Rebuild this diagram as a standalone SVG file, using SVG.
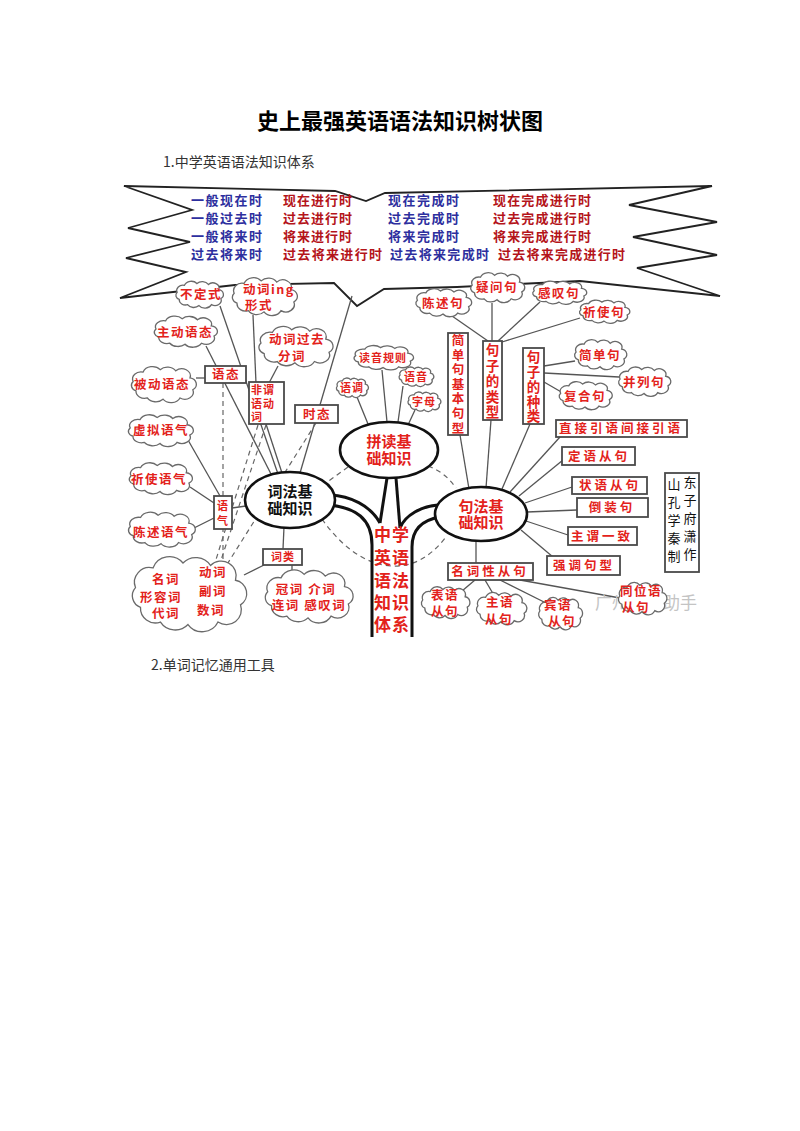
<svg xmlns="http://www.w3.org/2000/svg" xmlns:xlink="http://www.w3.org/1999/xlink" width="800" height="1131" viewBox="0 0 800 1131">
<defs>
<path id="cl" class="cloudp" d="M -42,-6 a 12,12 0 0 1 14,-16 a 14,14 0 0 1 24,-4 a 14,14 0 0 1 22,2 a 12,12 0 0 1 20,12 a 11,11 0 0 1 4,20 a 12,12 0 0 1 -18,14 a 14,14 0 0 1 -24,2 a 14,14 0 0 1 -22,-2 a 12,12 0 0 1 -16,-12 a 10,10 0 0 1 -4,-16 Z"/>
<style>
.cloudp{fill:#fff;stroke:#6a6a6a;stroke-width:1.3;vector-effect:non-scaling-stroke}
text{font-family:"Noto Sans CJK SC","Noto Sans",sans-serif}
.r{fill:#e3221b;font-weight:bold;font-size:12.5px;text-anchor:middle;letter-spacing:1.5px}
.rs{fill:#e3221b;font-weight:bold;font-size:11px;text-anchor:middle;letter-spacing:1px}
.v13{fill:#e3221b;font-weight:bold;font-size:12.5px;text-anchor:middle}
.v14{fill:#e3221b;font-weight:bold;font-size:13.5px;text-anchor:middle}
.au{fill:#111;font-size:13px;text-anchor:middle}
.bx{fill:#fff;stroke:#4a4a4a;stroke-width:1.8}
.ln{stroke:#555;stroke-width:1.3;fill:none}
.ds{stroke:#666;stroke-width:1.2;fill:none;stroke-dasharray:5 4}
.tk{stroke:#111;stroke-width:3;fill:none}
.el{fill:#fff;stroke:#111;stroke-width:2.6}
.sbB{fill:#2d2f9e;font-weight:bold;font-size:13px}
.sbR{fill:#b4141a;font-weight:bold;font-size:13px}
.et{font-weight:bold;font-size:15px;text-anchor:middle}
.tr{font-size:17px;font-weight:bold;fill:#e3221b;text-anchor:middle;letter-spacing:1px}
</style>
</defs>
<rect width="800" height="1131" fill="#fff"/>
<text x="400" y="129" text-anchor="middle" font-size="22" font-weight="bold" fill="#000">史上最强英语语法知识树状图</text>
<text x="163" y="167" font-size="14" fill="#333">1.中学英语语法知识体系</text>
<text x="151" y="670" font-size="14" fill="#333">2.单词记忆通用工具</text>

<g id="tenses">
<polygon points="124,186 335,191 366,201 385,193 712,186 629,205 717,222 633,237 717,255 637,268 720,296 580,281 457,287 384,289 357,306 334,283 235,285 120,298 186,272 126,258 190,242 128,228 192,210" fill="#fff" stroke="#222" stroke-width="1.8" stroke-linejoin="miter"/>
<text class="sbB" x="191" y="205" textLength="71">一般现在时</text>
<text class="sbR" x="283" y="205" textLength="69">现在进行时</text>
<text class="sbB" x="388" y="205" textLength="71">现在完成时</text>
<text class="sbR" x="493" y="205" textLength="98">现在完成进行时</text>
<text class="sbB" x="191" y="223" textLength="71">一般过去时</text>
<text class="sbR" x="283" y="223" textLength="69">过去进行时</text>
<text class="sbB" x="388" y="223" textLength="71">过去完成时</text>
<text class="sbR" x="493" y="223" textLength="98">过去完成进行时</text>
<text class="sbB" x="191" y="241" textLength="71">一般将来时</text>
<text class="sbR" x="283" y="241" textLength="69">将来进行时</text>
<text class="sbB" x="388" y="241" textLength="71">将来完成时</text>
<text class="sbR" x="493" y="241" textLength="98">将来完成进行时</text>
<text class="sbB" x="191" y="259" textLength="71">过去将来时</text>
<text class="sbR" x="283" y="259" textLength="99">过去将来进行时</text>
<text class="sbB" x="390" y="259" textLength="99">过去将来完成时</text>
<text class="sbR" x="498" y="259" textLength="127">过去将来完成进行时</text>
</g>

<g id="connectors">
<line class="ln" x1="352" y1="296" x2="300" y2="473"/>
<line class="ln" x1="220" y1="306" x2="278" y2="474"/>
<line class="ln" x1="253" y1="315" x2="256" y2="383"/>
<line class="ln" x1="278" y1="366" x2="269" y2="383"/>
<line class="ln" x1="206" y1="346" x2="272" y2="476"/>
<line class="ln" x1="196" y1="378" x2="205" y2="378"/>
<line class="ln" x1="266" y1="424" x2="282" y2="473"/>
<line class="ln" x1="188" y1="440" x2="220" y2="496"/>
<line class="ln" x1="190" y1="487" x2="214" y2="503"/>
<line class="ln" x1="194" y1="528" x2="214" y2="518"/>
<line class="ln" x1="232" y1="508" x2="246" y2="506"/>
<line class="ln" x1="284" y1="527" x2="283" y2="549"/>
<line class="ln" x1="264" y1="565" x2="244" y2="575"/>
<line class="ln" x1="292" y1="565" x2="292" y2="574"/>
<line class="ds" x1="223" y1="383" x2="223" y2="566"/>
<line class="ds" x1="258" y1="425" x2="214" y2="566"/>
<line class="ds" x1="266" y1="425" x2="219" y2="566"/>
<line class="ds" x1="316" y1="423" x2="226" y2="566"/>
<line class="ds" x1="348" y1="467" x2="326" y2="483"/>
<path class="ds" d="M 322,519 C 340,545 365,565 392,566 C 415,567 432,555 446,537"/>
<path class="ds" d="M 428,466 Q 445,472 456,488"/>
<line class="ln" x1="357" y1="397" x2="368" y2="424"/>
<line class="ln" x1="382" y1="370" x2="387" y2="422"/>
<line class="ln" x1="403" y1="386" x2="398" y2="422"/>
<line class="ln" x1="415" y1="410" x2="408" y2="425"/>
<line class="ln" x1="452" y1="316" x2="488" y2="341"/>
<line class="ln" x1="492" y1="303" x2="492" y2="341"/>
<line class="ln" x1="540" y1="302" x2="498" y2="341"/>
<line class="ln" x1="580" y1="318" x2="502" y2="342"/>
<line class="ln" x1="544" y1="366" x2="575" y2="361"/>
<line class="ln" x1="544" y1="373" x2="619" y2="377"/>
<line class="ln" x1="544" y1="382" x2="563" y2="393"/>
<line class="ln" x1="460" y1="435" x2="469" y2="489"/>
<line class="ln" x1="491" y1="420" x2="486" y2="488"/>
<line class="ln" x1="530" y1="424" x2="502" y2="489"/>
<line class="ln" x1="560" y1="437" x2="510" y2="492"/>
<line class="ln" x1="563" y1="460" x2="519" y2="496"/>
<line class="ln" x1="572" y1="487" x2="525" y2="503"/>
<line class="ln" x1="577" y1="510" x2="527" y2="512"/>
<line class="ln" x1="568" y1="535" x2="526" y2="521"/>
<line class="ln" x1="553" y1="557" x2="521" y2="530"/>
<line class="ln" x1="476" y1="541" x2="476" y2="563"/>
<line class="ln" x1="475" y1="580" x2="462" y2="591"/>
<line class="ln" x1="485" y1="580" x2="495" y2="597"/>
<line class="ln" x1="500" y1="580" x2="546" y2="603"/>
<line class="ln" x1="520" y1="580" x2="620" y2="598"/>
<path class="tk" d="M 387,478 L 380,523"/>
<path class="tk" d="M 396,478 L 400,528"/>
<path class="tk" d="M 330,495 C 350,496 370,505 380,523"/>
<path class="tk" d="M 330,505 C 355,508 372,518 372,545 L 372,637"/>
<path class="tk" d="M 438,505 C 422,506 405,515 400,528"/>
<path class="tk" d="M 440,517 C 422,520 412,530 412,547 L 412,637"/>
</g>

<text x="595" y="609" font-size="17" fill="#c4c4c4">广州中考助手</text>

<g id="n-budingshi"><use href="#cl" transform="translate(199,295) scale(0.52,0.44)"/><text class="r" x="201" y="299" font-size="12">不定式</text></g>
<g id="n-ing"><use href="#cl" transform="translate(264,297) scale(0.71,0.62)"/><text class="r" x="243" y="294" style="text-anchor:start">动词ing</text><text class="r" x="245" y="310" style="text-anchor:start">形式</text></g>
<g id="n-zhudong"><use href="#cl" transform="translate(185,332) scale(0.69,0.51)"/><text class="r" x="185" y="337">主动语态</text></g>
<g id="n-guoqufenci"><use href="#cl" transform="translate(295,347) scale(0.81,0.66)"/><text class="r" x="297" y="344">动词过去</text><text class="r" x="292" y="361">分词</text></g>
<g id="n-beidong"><use href="#cl" transform="translate(163,385) scale(0.71,0.59)"/><text class="r" x="162" y="389">被动语态</text></g>
<g id="n-xuni"><use href="#cl" transform="translate(160,431) scale(0.71,0.52)"/><text class="r" x="161" y="435">虚拟语气</text></g>
<g id="n-qishi"><use href="#cl" transform="translate(160,479) scale(0.69,0.52)"/><text class="r" x="159" y="484">祈使语气</text></g>
<g id="n-chenshu"><use href="#cl" transform="translate(161,530) scale(0.73,0.57)"/><text class="r" x="161" y="537">陈述语气</text></g>
<g id="n-ciclass1"><use href="#cl" transform="translate(188,595) scale(1.25,1.23)"/>
<text class="r" x="166" y="584">名词</text><text class="r" x="213" y="577">动词</text>
<text class="r" x="161" y="602">形容词</text><text class="r" x="213" y="596">副词</text>
<text class="r" x="166" y="618">代词</text><text class="r" x="211" y="615">数词</text></g>
<g id="n-ciclass2"><use href="#cl" transform="translate(308,597) scale(0.96,0.87)"/><text class="r" x="306" y="594">冠词 介词</text><text class="r" x="309" y="610">连词 感叹词</text></g>

<g id="n-yutai"><rect class="bx" x="205" y="366" width="41" height="17"/><text class="r" x="226" y="379">语态</text></g>
<g id="n-feiwei"><rect class="bx" x="249" y="382" width="35" height="42"/><text class="r" x="251" y="394" style="text-anchor:start;font-size:11px;letter-spacing:1px">非谓</text><text class="r" x="251" y="408" style="text-anchor:start;font-size:11px;letter-spacing:1px">语动</text><text class="r" x="251" y="421" style="text-anchor:start;font-size:11px;letter-spacing:1px">词</text></g>
<g id="n-shitai"><rect class="bx" x="295" y="405" width="43" height="18"/><text class="r" x="317" y="419">时态</text></g>
<g id="n-yuqi"><rect class="bx" x="214" y="496" width="18" height="33"/><text class="rs" x="223" y="510">语</text><text class="rs" x="223" y="525">气</text></g>
<g id="n-cilei"><rect class="bx" x="263" y="549" width="39" height="16"/><text class="rs" x="283" y="561">词类</text></g>

<g id="n-cifa"><ellipse class="el" cx="290" cy="500" rx="45" ry="28"/><text class="et" x="290" y="497" fill="#111">词法基</text><text class="et" x="290" y="514" fill="#111">础知识</text></g>
<g id="n-pindu"><ellipse class="el" cx="389" cy="450" rx="49" ry="28"/><text class="et" x="389" y="447" fill="#e3221b">拼读基</text><text class="et" x="389" y="464" fill="#e3221b">础知识</text></g>
<g id="n-jufa"><ellipse class="el" cx="481" cy="514" rx="46" ry="27"/><text class="et" x="481" y="512" fill="#e3221b">句法基</text><text class="et" x="481" y="528" fill="#e3221b">础知识</text></g>

<g id="n-trunk">
<text class="tr" x="392" y="541">中学</text>
<text class="tr" x="392" y="564">英语</text>
<text class="tr" x="392" y="587">语法</text>
<text class="tr" x="392" y="609">知识</text>
<text class="tr" x="392" y="631">体系</text>
</g>

<g id="n-duyin"><use href="#cl" transform="translate(383,358) scale(0.65,0.4)"/><text class="rs" x="383" y="362">读音规则</text></g>
<g id="n-yudiao"><use href="#cl" transform="translate(352,388) scale(0.35,0.32)"/><text class="rs" x="352" y="392">语调</text></g>
<g id="n-yuyin"><use href="#cl" transform="translate(416,377) scale(0.38,0.32)"/><text class="rs" x="416" y="381">语音</text></g>
<g id="n-zimu"><use href="#cl" transform="translate(424,402) scale(0.36,0.32)"/><text class="rs" x="424" y="406">字母</text></g>

<g id="n-chenshuju"><use href="#cl" transform="translate(443,303) scale(0.61,0.46)"/><text class="r" x="443" y="308">陈述句</text></g>
<g id="n-yiwenju"><use href="#cl" transform="translate(497,288) scale(0.59,0.49)"/><text class="r" x="497" y="292">疑问句</text></g>
<g id="n-gantanju"><use href="#cl" transform="translate(559,293) scale(0.59,0.38)"/><text class="r" x="559" y="298">感叹句</text></g>
<g id="n-qishiju"><use href="#cl" transform="translate(604,312) scale(0.55,0.38)"/><text class="r" x="604" y="317">祈使句</text></g>
<g id="n-jiandanju"><use href="#cl" transform="translate(600,355) scale(0.57,0.49)"/><text class="r" x="600" y="360">简单句</text></g>
<g id="n-binglieju"><use href="#cl" transform="translate(644,382) scale(0.57,0.48)"/><text class="r" x="644" y="387">并列句</text></g>
<g id="n-fuheju"><use href="#cl" transform="translate(585,396) scale(0.58,0.46)"/><text class="r" x="585" y="401">复合句</text></g>

<g id="n-jibenjuxing"><rect class="bx" x="448" y="333" width="20" height="102"/>
<text class="v13" x="458" y="345">简</text><text class="v13" x="458" y="359.6">单</text><text class="v13" x="458" y="374.2">句</text><text class="v13" x="458" y="388.8">基</text><text class="v13" x="458" y="403.4">本</text><text class="v13" x="458" y="418">句</text><text class="v13" x="458" y="432.6">型</text></g>
<g id="n-juzileixing"><rect class="bx" x="483" y="341" width="19" height="79"/>
<text class="v14" x="492.5" y="355">句</text><text class="v14" x="492.5" y="370.5">子</text><text class="v14" x="492.5" y="386">的</text><text class="v14" x="492.5" y="401.5">类</text><text class="v14" x="492.5" y="417">型</text></g>
<g id="n-juzizhonglei"><rect class="bx" x="523" y="348" width="21" height="76"/>
<text class="v14" x="533.5" y="361.5">句</text><text class="v14" x="533.5" y="376.5">子</text><text class="v14" x="533.5" y="391.5">的</text><text class="v14" x="533.5" y="406.5">种</text><text class="v14" x="533.5" y="421">类</text></g>

<g id="n-zhijie"><rect class="bx" x="556" y="420" width="131" height="17"/><text class="r" x="621" y="433" style="letter-spacing:3px">直接引语间接引语</text></g>
<g id="n-dingyu"><rect class="bx" x="562" y="447" width="73" height="18"/><text class="r" x="599" y="461" style="letter-spacing:3px">定语从句</text></g>
<g id="n-zhuangyu"><rect class="bx" x="572" y="477" width="75" height="17"/><text class="r" x="610" y="490" style="letter-spacing:3px">状语从句</text></g>
<g id="n-daozhuang"><rect class="bx" x="577" y="498" width="71" height="19"/><text class="r" x="612" y="512" style="letter-spacing:3px">倒装句</text></g>
<g id="n-zhuwei"><rect class="bx" x="568" y="527" width="69" height="18"/><text class="r" x="602" y="541" style="letter-spacing:3px">主谓一致</text></g>
<g id="n-qiangdiao"><rect class="bx" x="547" y="556" width="73" height="19"/><text class="r" x="584" y="570" style="letter-spacing:3px">强调句型</text></g>
<g id="n-mingcixing"><rect class="bx" x="448" y="563" width="85" height="17"/><text class="r" x="490" y="576" style="letter-spacing:3px">名词性从句</text></g>

<g id="n-biaoyu"><use href="#cl" transform="translate(445,603) scale(0.53,0.52)"/><text class="r" x="445" y="600">表语</text><text class="r" x="445" y="616">从句</text></g>
<g id="n-zhuyu"><use href="#cl" transform="translate(501,609) scale(0.55,0.53)"/><text class="r" x="500" y="607">主语</text><text class="r" x="499" y="624">从句</text></g>
<g id="n-binyu"><use href="#cl" transform="translate(560,614) scale(0.48,0.53)"/><text class="r" x="558" y="610">宾语</text><text class="r" x="562" y="626">从句</text></g>
<g id="n-tongwei"><use href="#cl" transform="translate(642,599) scale(0.53,0.53)"/><text class="r" x="641" y="596">同位语</text><text class="r" x="636" y="612">从句</text></g>

<g id="n-author"><rect class="bx" x="665" y="473" width="34" height="99"/>
<text class="au" x="674" y="489">山</text><text class="au" x="690" y="487">东</text>
<text class="au" x="674" y="507">孔</text><text class="au" x="690" y="505">子</text>
<text class="au" x="674" y="525">学</text><text class="au" x="690" y="523">府</text>
<text class="au" x="674" y="543">秦</text><text class="au" x="690" y="541">潇</text>
<text class="au" x="674" y="561">制</text><text class="au" x="690" y="559">作</text></g>
</svg>
